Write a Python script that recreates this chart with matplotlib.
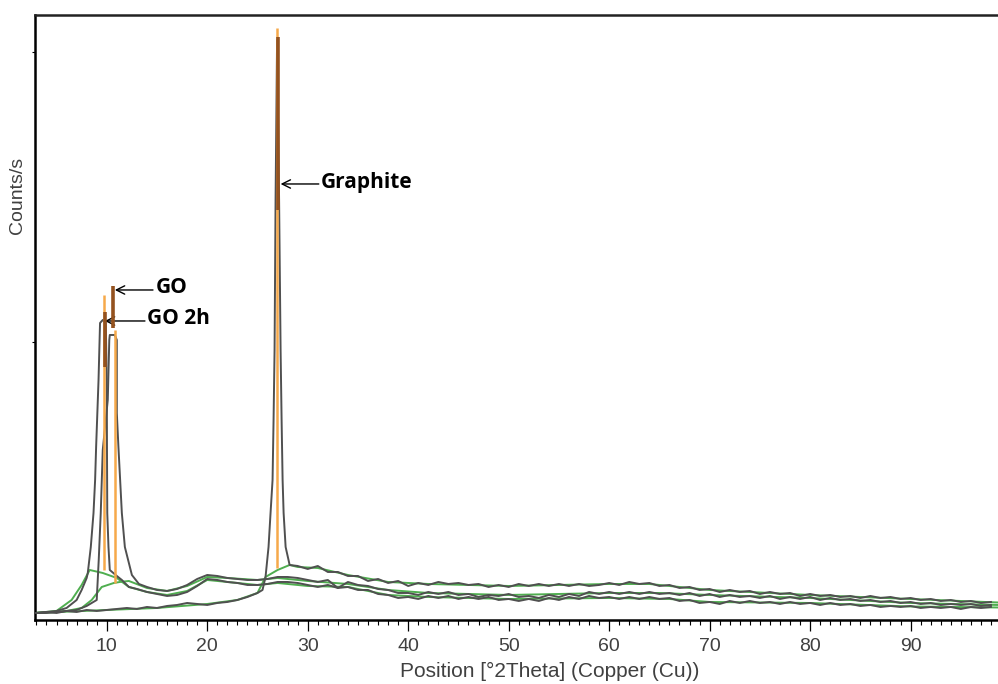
import matplotlib.pyplot as plt
import numpy as np

# 2theta positions and counts/s
graphite_x = list(range(3, 26)) + [25.5, 25.8, 26.1, 26.3, 26.5, 26.6, 26.7, 26.8, 26.95,
                                   27.15, 27.3, 27.4, 27.5, 27.6, 27.8, 28.2] + list(range(29, 99))
graphite_y = [19, 20, 19, 21, 20, 22, 21, 22, 23, 24, 23, 25, 24, 26, 27, 29, 28, 27, 29, 30, 32, 35, 39,
              42, 55, 85, 119, 152, 212, 282, 432, 592, 432, 282, 212, 152, 119, 85, 67,
              66, 63, 66, 60, 60, 56, 56, 51, 53, 49, 51, 46, 49, 47, 50, 48, 49, 47, 48, 45,
              47, 45, 48, 46, 48, 46, 48, 46, 48, 46, 47, 49, 47, 50, 48, 49, 46, 47, 44, 45,
              42, 43, 40, 42, 40, 41, 38, 40, 38, 39, 36, 38, 36, 37, 35, 36, 34, 36, 34, 35,
              33, 34, 32, 33, 31, 32, 30, 31, 29, 30]

go_x = [3, 4, 5, 6, 7, 8, 8.5, 9.0, 9.2, 9.4, 9.6, 10.1, 10.25, 10.3, 10.8, 11.0, 11.0, 11.16,
        11.5, 11.8, 12.5, 13.2] + list(range(14, 99))
go_y = [19, 19, 20, 21, 22, 26, 29, 32, 72, 119, 182, 232, 292, 297, 297, 292, 219, 185,
        119, 85, 57, 48,
        45, 42, 41, 43, 47, 53, 57, 56, 54, 53, 52, 52, 53, 55, 55, 54,
        52, 50, 52, 44, 50, 47, 46, 43, 42, 39, 39, 37, 40, 38, 40, 37, 38, 35, 37, 36,
        38, 35, 36, 34, 37, 35, 38, 36, 40, 38, 40, 38, 40, 38, 40, 38, 39, 37, 39, 36,
        38, 35, 37, 35, 36, 34, 36, 33, 35, 33, 35, 32, 34, 32, 33, 31, 32, 30, 31, 29,
        30, 28, 29, 27, 28, 27, 28, 26, 27]

go2h_x = [3, 4, 5, 6, 7, 7.5, 8.0, 8.11, 8.41, 8.68, 8.84, 8.94, 9.18, 9.33, 9.6, 9.9, 10.0,
          10.02, 10.05, 10.17, 10.3, 11, 11.5, 12.2] + list(range(13, 99))
go2h_y = [19, 20, 21, 24, 32, 42, 54, 59, 85, 119, 152, 185, 252, 309, 312, 309, 252,
          185, 119, 85, 62, 56, 52, 45,
          43, 40, 38, 36, 37, 40, 46, 53, 52, 50, 49, 47, 47, 48, 50, 50, 49,
          47, 45, 47, 44, 45, 42, 42, 38, 37, 34, 35, 33, 36, 34, 36, 33, 35, 33, 35, 32,
          33, 31, 33, 31, 34, 32, 35, 33, 36, 34, 35, 33, 35, 33, 35, 33, 34, 31, 32, 29,
          30, 28, 31, 29, 31, 29, 30, 28, 30, 28, 29, 27, 29, 27, 28, 26, 27, 25, 26, 25,
          26, 24, 25, 24, 25, 23, 25, 24, 25]

# fitted backgrounds (green)
graphite_bg_x = [2.85, 10, 15, 20, 23, 25, 25.8, 27, 28.2, 29, 31, 34, 38, 42, 50, 60, 64, 70, 80, 90, 98.7]
graphite_bg_y = [19, 22, 24, 28, 32, 39, 55, 62, 67, 65, 64, 57, 50, 48, 46, 48, 48, 42, 37, 33, 29.5]
go_bg_x = [2.85, 6, 7.5, 8.5, 9.5, 10.7, 11.3, 12.2, 14, 16, 18, 20, 22, 25, 27, 30, 34, 38, 42, 50,
           60, 65, 70, 80, 90, 98.7]
go_bg_y = [19, 21, 24, 32, 45, 49, 50, 51, 44, 41, 46, 55, 54, 52, 54, 51, 48, 42, 39, 37,
           39, 39, 37, 34, 29, 27]
go2h_bg_x = [2.85, 5, 6.5, 7.5, 8.3, 9.6, 11, 12.2, 14, 16, 18, 20, 22, 25, 27, 30, 34, 38, 42, 50,
             60, 66, 70, 80, 90, 98.7]
go2h_bg_y = [19, 21, 32, 47, 62, 59, 54, 45, 40, 37, 41, 52, 50, 47, 49, 46, 45, 37, 35, 33,
             34, 33, 30, 29, 25.5, 24.5]

# reference peak sticks: position, bottom, top
light_x = [9.73, 10.83, 26.95]
light_lo = [62, 49, 64]
light_hi = [337, 302, 604]
dark_x = [9.83, 10.66, 27.02]
dark_lo = [265, 304, 422]
dark_hi = [320, 346, 595]

fig = plt.figure(figsize=(9.98, 6.84), dpi=100)
ax = fig.add_axes([0.035, 0.0936, 0.965, 0.8845])

green = "#4fae4f"
for bx, by in [(graphite_bg_x, graphite_bg_y), (go_bg_x, go_bg_y), (go2h_bg_x, go2h_bg_y)]:
    ax.plot(bx, by, color=green, lw=1.4, zorder=2)

for cx, cy in [(graphite_x, graphite_y), (go_x, go_y), (go2h_x, go2h_y)]:
    ax.plot(cx, cy, color="#505050", lw=1.4, zorder=3)

ax.vlines(light_x, light_lo, light_hi, color="#f6a94a", lw=1.8, zorder=4)
ax.vlines(dark_x, dark_lo, dark_hi, color="#94521f", lw=2.6, zorder=5)

arrow = dict(arrowstyle="->", color="black", lw=1, mutation_scale=15, shrinkA=0, shrinkB=0)
font = dict(fontsize=15, fontweight="bold", family="Open Sans", va="center", ha="left")
ax.annotate("", xy=(10.8, 342), xytext=(14.6, 342), arrowprops=arrow)
ax.text(14.9, 344, "GO", **font)
ax.annotate("", xy=(9.8, 311), xytext=(13.8, 311), arrowprops=arrow)
ax.text(14.0, 313, "GO 2h", **font)
ax.annotate("", xy=(27.3, 448), xytext=(31.1, 448), arrowprops=arrow)
ax.text(31.3, 449, "Graphite", **font)

ax.set_xlim(2.85, 98.7)
ax.set_ylim(12, 617)
ax.set_xticks(np.arange(10, 100, 10))
ax.set_xticks(np.arange(3, 99, 1), minor=True)
ax.set_yticks([290, 580])
ax.set_yticklabels([])
ax.tick_params(axis="x", which="major", direction="out", length=8, width=0.9,
               labelsize=14, labelcolor="#404040", pad=5)
ax.tick_params(axis="x", which="minor", direction="out", length=3.5, width=0.8)
ax.tick_params(axis="y", direction="out", length=2.5, width=0.8)
for lab in ax.get_xticklabels():
    lab.set_family("Liberation Sans")

ax.spines["right"].set_visible(False)
for s in ["left", "bottom", "top"]:
    ax.spines[s].set_linewidth(1.8)
ax.spines["top"].set_color("#222222")

ax.set_xlabel("Position [°2Theta] (Copper (Cu))", fontsize=15, color="#404040",
              family="Liberation Sans")
ax.xaxis.set_label_coords(0.535, -0.07)
fig.text(0.018, 0.715, "Counts/s", rotation=90, fontsize=14, color="#404040",
         family="Liberation Sans", ha="center", va="center")

plt.savefig("out.png", dpi=100)
